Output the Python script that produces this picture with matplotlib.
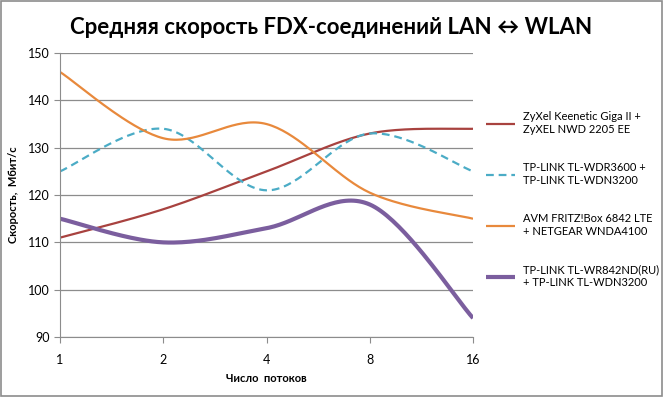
import matplotlib

matplotlib.use("Agg")
import matplotlib.pyplot as plt  # noqa: E402
import numpy as np  # noqa: E402
from matplotlib.patches import Rectangle  # noqa: E402

plt.rcParams["font.family"] = ["Lato", "Open Sans", "DejaVu Sans"]

# x categories: number of streams
threads = ["1", "2", "4", "8", "16"]

zyxel = [111, 117, 125, 133, 134]
wdr3600 = [125, 134, 121, 133, 125]
fritz = [146, 132, 135, 120.5, 115]
wr842 = [115, 110, 113, 118, 94]

labels = [
    "ZyXel Keenetic Giga II +\nZyXEL NWD 2205 EE",
    "TP-LINK TL-WDR3600 +\nTP-LINK TL-WDN3200",
    "AVM FRITZ!Box 6842 LTE\n+ NETGEAR WNDA4100",
    "TP-LINK TL-WR842ND(RU)\n+ TP-LINK TL-WDN3200",
]
colors = ["#A8423F", "#4BACC6", "#E8893C", "#7B5E9E"]
styles = [dict(lw=1.6), dict(lw=1.6, ls=(0, (3.5, 2.2))), dict(lw=1.6), dict(lw=3.0)]


def smooth(y, n=40):
    """Excel-like smoothed line: cubic Bezier through points, Catmull-Rom handles."""
    y = np.asarray(y, dtype=float)
    x = np.arange(len(y), dtype=float)
    px, py = [], []
    t = np.linspace(0, 1, n)
    for i in range(len(y) - 1):
        i0, i3 = max(i - 1, 0), min(i + 2, len(y) - 1)
        p0 = np.array([x[i], y[i]])
        p3 = np.array([x[i + 1], y[i + 1]])
        c1 = p0 + (p3 - np.array([x[i0], y[i0]])) / 6
        c2 = p3 - (np.array([x[i3], y[i3]]) - p0) / 6
        pts = ((1 - t) ** 3)[:, None] * p0 + (3 * (1 - t) ** 2 * t)[:, None] * c1 \
            + (3 * (1 - t) * t ** 2)[:, None] * c2 + (t ** 3)[:, None] * p3
        px.extend(pts[:, 0])
        py.extend(pts[:, 1])
    return np.array(px), np.array(py)


fig = plt.figure(figsize=(6.63, 3.97), dpi=100)
ax = fig.add_axes([0.0905, 0.151, 0.623, 0.7154])

for ys, lab, c, st in zip([zyxel, wdr3600, fritz, wr842], labels, colors, styles):
    sx, sy = smooth(ys)
    ax.plot(sx, sy, color=c, label=lab, solid_capstyle="butt", **st)

ax.set_xlim(0, len(threads) - 1)
ax.set_ylim(90, 150)
ax.set_xticks(range(len(threads)))
ax.set_xticklabels(threads)
ax.set_yticks(range(90, 151, 10))
ax.yaxis.grid(True, color="#8C8C8C", lw=0.9)
ax.set_axisbelow(True)
for s in ("top", "right"):
    ax.spines[s].set_visible(False)
for s in ("left", "bottom"):
    ax.spines[s].set_color("#8C8C8C")
ax.tick_params(colors="#8C8C8C", labelcolor="black", labelsize=9, length=4)
ax.tick_params(axis="x", pad=8)

ax.set_xlabel("Число  потоков", fontsize=8, fontweight="bold", labelpad=5)
ax.set_ylabel("Скорость,  Мбит/с", fontsize=8, fontweight="bold", labelpad=6)
fig.text(0.5, 0.93, "Средняя скорость FDX-соединений LAN ↔ WLAN",
         ha="center", va="center", fontsize=16, fontweight="bold")

fig.legend(loc="upper left", bbox_to_anchor=(0.733, 0.72), frameon=False,
           fontsize=8, handlelength=2.6, handletextpad=0.7, labelspacing=2.45,
           borderpad=0, borderaxespad=0)

fig.add_artist(Rectangle((0.001, 0.002), 0.997, 0.995, transform=fig.transFigure,
                         fill=False, ec="#8C8C8C", lw=1.2))
fig.savefig("out.png", dpi=100)
